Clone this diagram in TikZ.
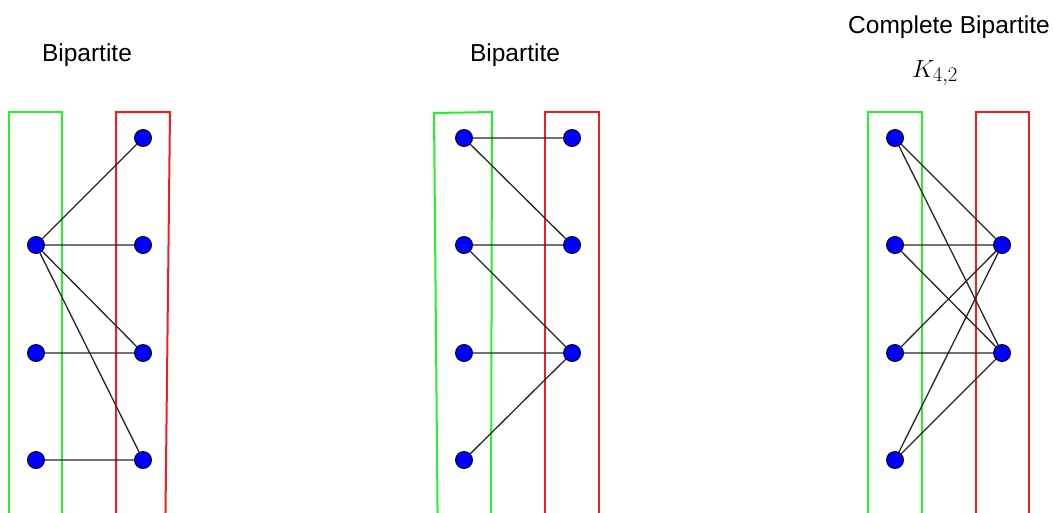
\documentclass[tikz,border=0pt]{standalone}
\usepackage{fontspec}
\setmainfont{Liberation Sans}
\begin{document}
\begin{tikzpicture}[x=1pt,y=-1pt,
  vtx/.style={circle,fill=blue,draw=black,line width=0.9pt,minimum size=17pt,inner sep=0pt},
  edge/.style={draw=black!85,line width=1.3pt},
  gbox/.style={draw={rgb,255:red,40;green,240;blue,40},line width=2pt},
  rbox/.style={draw={rgb,255:red,240;green,30;blue,30},line width=2pt},
  ttl/.style={anchor=base,inner sep=0pt,font=\fontsize{24.5}{28}\selectfont}]
\useasboundingbox (0,0) rectangle (1054,512);
\clip (0,0) rectangle (1054,512);
% titles
\node[ttl] (t1) at (87,61) {Bipartite};
\node[ttl] (t2) at (515,61) {Bipartite};
\node[ttl] (t3) at (949,33) {Complete Bipartite};
\node[ttl,font=\fontsize{28}{32}\selectfont] (t4) at (935,77) {$K_{4,2}$};
% panel 1 boxes
\draw[gbox] (9,530) -- (9,112) -- (62,112) -- (62,530);
\draw[rbox] (116,530) -- (116,112) -- (170,112) -- (165.3,530);
% panel 2 boxes
\draw[gbox] (437.7,530) -- (434,113) -- (492,112) -- (491,530);
\draw[rbox] (545,530) -- (545,112) -- (599,112) -- (599,530);
% panel 3 boxes
\draw[gbox] (868,530) -- (868,112) -- (921.5,112) -- (921.5,530);
\draw[rbox] (975.5,530) -- (975.5,112) -- (1029,112) -- (1029,530);
% panel 1 nodes
\node[vtx] (a2) at (36,245) {};
\node[vtx] (a3) at (36,353) {};
\node[vtx] (a4) at (36,460) {};
\node[vtx] (b1) at (143,138) {};
\node[vtx] (b2) at (143,245) {};
\node[vtx] (b3) at (143,353) {};
\node[vtx] (b4) at (143,460) {};
% panel 2 nodes
\node[vtx] (c1) at (464,138) {};
\node[vtx] (c2) at (464,245) {};
\node[vtx] (c3) at (464,353) {};
\node[vtx] (c4) at (464,460) {};
\node[vtx] (d1) at (572,138) {};
\node[vtx] (d2) at (572,245) {};
\node[vtx] (d3) at (572,353) {};
% panel 3 nodes
\node[vtx] (e1) at (895,138) {};
\node[vtx] (e2) at (895,245) {};
\node[vtx] (e3) at (895,353) {};
\node[vtx] (e4) at (895,460) {};
\node[vtx] (f1) at (1002,245) {};
\node[vtx] (f2) at (1002,353) {};
% edges
\path[edge] (a2) -- (b1) (a2) -- (b2) (a2) -- (b3) (a2) -- (b4)
  (a3) -- (b3) (a4) -- (b4);
\path[edge] (c1) -- (d1) (c1) -- (d2) (c2) -- (d2) (c2) -- (d3)
  (c3) -- (d3) (c4) -- (d3);
\path[edge] (e1) -- (f1) (e1) -- (f2) (e2) -- (f1) (e2) -- (f2)
  (e3) -- (f1) (e3) -- (f2) (e4) -- (f1) (e4) -- (f2);
\end{tikzpicture}
\end{document}
